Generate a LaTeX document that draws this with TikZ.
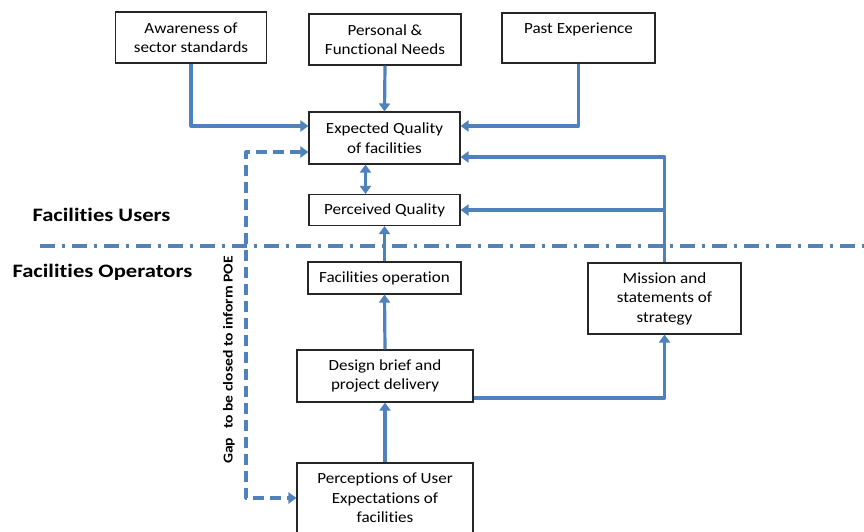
\documentclass[tikz,border=0pt]{standalone}
\usepackage{fontspec}
\setmainfont{Carlito}[FakeStretch=1.1, Ligatures=NoCommon]
\newfontfamily\zonefont{Carlito}[FakeStretch=1.19, Ligatures=NoCommon]
\newfontfamily\gapfont{Carlito}[Ligatures=NoCommon]
\usetikzlibrary{arrows.meta}
\definecolor{flowblue}{RGB}{79,129,189}
\begin{document}
\begin{tikzpicture}[x=1pt,y=-1pt,
  box/.style={draw=black!85, line width=1.1pt, fill=white, align=center,
    font=\fontsize{15.5}{19.5}\selectfont, inner sep=0pt},
  flow/.style={draw=flowblue, line width=3.2pt, line join=round,
    -{Triangle[length=8pt,width=11pt]}},
  gapflow/.style={draw=flowblue, line width=3.2pt, line join=round,
    dash pattern=on 11pt off 6pt,
    {Triangle[length=8pt,width=11pt]}-{Triangle[length=8pt,width=11pt]}},
  divider/.style={draw=flowblue!90!gray, line width=3.2pt,
    dash pattern=on 15pt off 7pt on 3pt off 7pt},
  zone/.style={font=\zonefont\fontsize{19}{22}\selectfont\bfseries},
  gaplabel/.style={rotate=90, xscale=1.15,
    font=\gapfont\fontsize{13.6}{16}\selectfont\bfseries}
]
\useasboundingbox (0,0) rectangle (864,531);
\clip (0,0) rectangle (864,531);

% boxes
\node[box, minimum width=151pt, minimum height=51pt] (aware) at (191,37.5)
  {Awareness of\\sector standards};
\node[box, minimum width=152pt, minimum height=51pt] (personal) at (385,39.5)
  {Personal \&\\Functional Needs};
\node[box, minimum width=153pt, minimum height=50pt] (past) at (578.5,38)
  {Past Experience\\\mbox{}};
\node[box, minimum width=151pt, minimum height=52pt] (expected) at (384.5,138)
  {Expected Quality\\of facilities};
\node[box, minimum width=151pt, minimum height=31pt] (perceived) at (384.5,210)
  {Perceived Quality};
\node[box, minimum width=153pt, minimum height=32pt] (operation) at (384.5,278)
  {Facilities operation};
\node[box, minimum width=176pt, minimum height=52pt] (design) at (385,376)
  {Design brief and\\project delivery};
\node[box, minimum width=176pt, minimum height=70pt] (percep) at (385,498)
  {Perceptions of User\\Expectations of\\facilities};
\node[box, minimum width=153pt, minimum height=71pt] (mission) at (664.5,298.5)
  {Mission and\\statements of\\strategy};

% user / operator divide
\coordinate (divL) at (40,246);
\coordinate (divR) at (870,246);
\draw[divider] (divL) -- (divR);
\node[zone, anchor=west] (users) at (29,215) {Facilities Users};
\node[zone, anchor=west] (operators) at (9,272) {Facilities Operators};

% influences on expected quality
\draw[flow] (aware.south) |- ([yshift=12pt]expected.west);
\draw[flow] (personal.south) -- (expected.north);
\draw[flow] (past.south) |- ([yshift=12pt]expected.east);
\draw[flow] (mission.north) |- ([yshift=-19pt]expected.east);
\draw[flow] (mission.north |- perceived.east) -- (perceived.east);
\draw[flow, {Triangle[length=8pt,width=11pt]}-{Triangle[length=8pt,width=11pt]}]
  ([xshift=-19pt]expected.south) -- ([xshift=-19pt]perceived.north);

% operator chain
\draw[flow] (operation.north) -- (perceived.south);
\draw[flow] (design.north) -- (operation.south);
\draw[flow] (percep.north) -- (design.south);
\draw[flow] ([yshift=-22pt]design.east) -| (mission.south);

% gap loop
\coordinate (gapx) at (246,0);
\draw[gapflow] ([yshift=-14pt]expected.west) -| (gapx |- percep.west) -- (percep.west);
\node[gaplabel] (gaptext) at (229,360) {Gap\hspace{0.35em} to be closed to inform POE};
\end{tikzpicture}
\end{document}
